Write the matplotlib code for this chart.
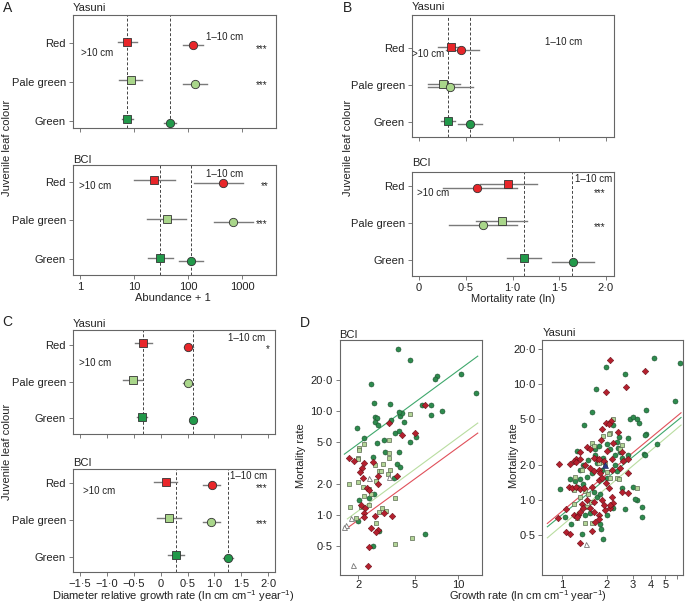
import numpy as np
import matplotlib
matplotlib.use("Agg")
from matplotlib import pyplot as plt

plt.rcParams['font.family'] = ['Liberation Sans', 'DejaVu Sans']
plt.rcParams['mathtext.fontset'] = 'custom'
plt.rcParams['mathtext.rm'] = 'Liberation Sans'

W, H = 686, 604

# colours: red, pale green, green
cols = ['#e8262a', '#a9d68a', '#22994a']
rows = ['Red', 'Pale green', 'Green']

# ---- panel A: abundance + 1 (squares = >10 cm, circles = 1-10 cm)
a_yas_sq = [7.4, 8.7, 7.4]
a_yas_sq_lo = [5.1, 5.3, 5.9]
a_yas_sq_hi = [11.2, 13.9, 9.5]
a_yas_ci = [122, 135, 46]
a_yas_ci_lo = [82, 80, 36]
a_yas_ci_hi = [187, 222, 60]
a_yas_ref = [7.5, 47]

a_bci_sq = [23.8, 40, 30]
a_bci_sq_lo = [10.1, 17.6, 17.9]
a_bci_sq_hi = [57, 92, 53]
a_bci_ci = [440, 690, 113]
a_bci_ci_lo = [129, 302, 69]
a_bci_ci_hi = [1030, 1580, 192]
a_bci_ref = [30, 113]

# ---- panel B: mortality rate (ln)
b_yas_sq = [0.34, 0.25, 0.31]
b_yas_sq_lo = [0.20, 0.09, 0.235]
b_yas_sq_hi = [0.44, 0.44, 0.385]
b_yas_ci = [0.45, 0.33, 0.545]
b_yas_ci_lo = [0.285, 0.093, 0.42]
b_yas_ci_hi = [0.64, 0.574, 0.67]
b_yas_ref = [0.307, 0.545]

b_bci_sq = [0.955, 0.884, 1.123]
b_bci_sq_lo = [0.65, 0.606, 0.944]
b_bci_sq_hi = [1.26, 1.16, 1.30]
b_bci_ci = [0.624, 0.688, 1.644]
b_bci_ci_lo = [0.26, 0.324, 1.42]
b_bci_ci_hi = [1.045, 1.045, 1.875]
b_bci_ref = [1.12, 1.64]

# ---- panel C: diameter relative growth rate
c_yas_sq = [-0.325, -0.51, -0.343]
c_yas_sq_lo = [-0.48, -0.70, -0.45]
c_yas_sq_hi = [-0.17, -0.34, -0.25]
c_yas_ci = [0.515, 0.50, 0.61]
c_yas_ci_lo = [0.43, 0.42, 0.57]
c_yas_ci_hi = [0.60, 0.58, 0.65]
c_yas_ref = [-0.336, 0.608]

c_bci_sq = [0.093, 0.16, 0.28]
c_bci_sq_lo = [-0.125, -0.063, 0.14]
c_bci_sq_hi = [0.30, 0.373, 0.435]
c_bci_ci = [0.95, 0.933, 1.25]
c_bci_ci_lo = [0.795, 0.78, 1.157]
c_bci_ci_hi = [1.106, 1.106, 1.354]
c_bci_ref = [0.285, 1.25]

# ---- panel D: growth rate vs mortality rate (species points)
bci_green = [(3.77, 39.7), (4.59, 30.5), (2.45, 18.3), (7.06, 21.7), (6.87, 20.2), (10.4, 22.8),
             (13.4, 14.7), (2.56, 12.0), (3.33, 11.7), (5.57, 11.4), (6.44, 11.3), (7.69, 9.9),
             (6.44, 9.2), (2.63, 8.75), (2.69, 8.6), (2.61, 7.84), (2.73, 7.28), (3.38, 8.13),
             (3.91, 8.95), (4.04, 9.48), (3.83, 9.78), (4.15, 7.84), (1.96, 6.87), (3.63, 6.1),
             (3.83, 6.47), (5.06, 5.66), (4.62, 5.04), (2.2, 5.46), (2.69, 4.89), (3.02, 5.3),
             (3.07, 4.03), (3.87, 4.03), (2.52, 3.64), (3.73, 3.09), (3.93, 2.87), (3.57, 2.28),
             (2.58, 1.59), (2.01, 1.39), (2.39, 1.45), (2.8, 0.70), (5.88, 0.657), (2.52, 0.503),
             (1.98, 0.88)]
bci_red = [(3.26, 7.62), (4.04, 5.88), (4.98, 6.1), (5.88, 11.4), (1.73, 3.53), (1.87, 3.31),
           (2.2, 3.14), (2.54, 3.21), (2.12, 2.81), (2.05, 2.57), (2.15, 2.28), (2.74, 2.39),
           (2.74, 1.99), (2.29, 1.81), (2.39, 1.73), (3.71, 2.39), (2.09, 1.25), (2.24, 1.16),
           (2.18, 1.04), (2.2, 0.95), (2.63, 0.98), (3.04, 1.04), (3.44, 0.98), (2.45, 0.755),
           (2.73, 0.718), (2.66, 0.682), (2.39, 0.496), (2.36, 0.323)]
bci_pale = [(4.59, 9.4), (3.26, 5.3), (2.2, 4.78), (2.01, 4.38), (2.01, 4.19), (3.29, 3.92),
            (3.29, 3.55), (2.0, 3.55), (1.98, 3.45), (2.63, 3.02), (2.96, 3.06), (2.78, 2.65),
            (2.88, 2.65), (3.34, 2.71), (3.21, 2.46), (1.73, 1.99), (1.98, 2.06), (2.15, 1.85),
            (2.39, 1.77), (2.66, 2.14), (2.45, 1.58), (2.2, 1.52), (3.63, 1.47), (1.75, 1.2),
            (2.09, 1.18), (2.39, 1.25), (2.93, 1.16), (2.78, 1.06), (3.12, 1.09), (1.93, 0.94),
            (2.66, 0.84), (3.63, 0.523), (4.75, 0.597)]
bci_tri = [(2.39, 2.28), (3.29, 2.33), (1.78, 0.93), (1.64, 0.80), (1.6, 0.77), (1.85, 0.33)]

yas_green = [(4.16, 16.9), (6.32, 15.1), (1.98, 14.1), (2.67, 12.1), (1.69, 9.0), (5.84, 7.13),
             (3.71, 5.97), (1.58, 5.77), (1.41, 4.43), (2.88, 5.02), (3.04, 5.19), (3.23, 5.02),
             (3.34, 4.58), (2.22, 4.4), (2.77, 3.44), (3.71, 3.68), (4.39, 3.02), (3.61, 2.48),
             (2.44, 3.51), (2.34, 3.16), (1.25, 2.64), (1.76, 2.92), (1.67, 2.73), (2.11, 2.73),
             (2.4, 2.82), (2.47, 2.59), (2.0, 3.02), (2.28, 2.43), (1.88, 2.32), (0.96, 1.24),
             (1.13, 1.52), (1.22, 1.46), (1.32, 1.52), (1.39, 1.37), (1.25, 1.3), (1.31, 1.81),
             (1.39, 2.0), (1.5, 2.21), (1.71, 2.07), (1.85, 1.81), (2.28, 2.0), (2.34, 1.78),
             (2.54, 1.26), (3.01, 1.3), (3.2, 1.01), (2.67, 0.84), (3.47, 0.71), (2.22, 0.86),
             (2.0, 0.75), (1.8, 0.62), (1.83, 0.56), (1.9, 0.46), (1.35, 0.51), (1.15, 0.62),
             (1.04, 0.72), (1.43, 0.74), (1.54, 0.77), (1.63, 1.17), (1.71, 1.07), (1.8, 1.12),
             (1.47, 1.59), (1.58, 1.7), (2.0, 1.54), (2.54, 2.31), (3.65, 2.44), (2.77, 2.44),
             (1.67, 2.44), (3.12, 1.03), (3.47, 0.88), (3.65, 3.63)]
yas_red = [(2.11, 16.1), (3.65, 12.9), (2.71, 9.42), (1.97, 8.53), (1.98, 4.58), (2.13, 4.8),
           (2.06, 4.49), (1.87, 4.07), (2.4, 3.88), (1.83, 3.29), (2.2, 3.12), (1.47, 2.86),
           (1.53, 2.73), (1.32, 2.59), (2.0, 2.64), (2.54, 2.61), (1.71, 2.28), (1.24, 2.27),
           (0.95, 2.03), (1.12, 2.03), (1.19, 2.17), (1.24, 2.11), (1.31, 2.26), (1.63, 2.29),
           (1.78, 2.26), (1.92, 2.17), (2.17, 2.26), (2.58, 2.17), (2.77, 2.26), (1.43, 2.0),
           (1.54, 1.9), (1.63, 1.78), (1.76, 1.81), (1.8, 1.7), (2.17, 1.81), (2.47, 1.88),
           (1.1, 1.3), (1.16, 1.26), (1.24, 1.3), (1.31, 1.24), (1.41, 1.26), (1.58, 1.3),
           (1.76, 1.49), (1.85, 1.56), (1.98, 1.39), (2.06, 1.26), (2.17, 1.07), (2.54, 1.18),
           (2.81, 1.14), (2.81, 1.7), (1.06, 0.84), (1.19, 0.75), (1.27, 0.75), (1.31, 0.79),
           (1.53, 0.86), (1.63, 0.79), (1.76, 0.74), (1.78, 0.69), (1.95, 0.82), (2.11, 0.85),
           (1.67, 0.65), (1.58, 0.54), (1.06, 0.53), (1.12, 0.51), (1.32, 0.43), (1.25, 0.72),
           (2.2, 0.95), (2.11, 0.9), (1.63, 0.97), (1.47, 1.0), (1.35, 0.92), (1.39, 0.85),
           (1.85, 1.0), (1.92, 0.9), (0.94, 0.70)]
yas_pale = [(2.2, 5.02), (2.11, 3.8), (2.06, 3.68), (1.9, 3.56), (1.58, 3.08), (1.63, 2.92),
            (2.54, 2.96), (2.47, 2.73), (1.78, 2.07), (1.88, 2.11), (1.95, 2.03), (2.11, 1.56),
            (2.34, 1.54), (2.44, 1.52), (1.22, 1.59), (1.19, 1.22), (1.43, 1.2), (1.5, 1.12),
            (3.2, 1.26), (1.56, 0.97), (1.47, 0.88), (1.19, 0.92), (1.43, 0.63), (1.58, 0.63),
            (1.25, 0.7), (1.31, 1.07), (1.35, 1.81), (2.0, 1.75)]
yas_tri = [(1.45, 0.42)]
yas_navy = [(1.95, 2.0)]

# fitted lines, log10(m) = a + b*log10(g): (slope, intercept, g_start, g_end)
bci_fits = {'green': (1.01, 0.378, 1.6, 13.7), 'pale': (1.01, -0.265, 1.68, 13.7),
            'red': (1.0, -0.35, 1.62, 13.7)}
yas_fits = {'red': (1.05, -0.094, 0.79, 6.4), 'green': (1.037, -0.124, 0.79, 6.4),
            'pale': (1.07, -0.216, 0.79, 6.4)}


fig = plt.figure(figsize=(W / 100, H / 100), dpi=100)


def pax(l, t, r, b):
    return fig.add_axes([l / W, 1 - b / H, (r - l) / W, (b - t) / H])


def ftxt(x, y, s, **kw):
    kw.setdefault('va', 'center')
    kw.setdefault('fontsize', 8)
    fig.text(x / W, 1 - y / H, s, color='#222222', **kw)


def style(ax):
    for s in ax.spines.values():
        s.set_color('#666666')
        s.set_linewidth(0.8)
    ax.tick_params(labelsize=8, length=3, width=0.6, color='#666666', labelcolor='#222222', pad=2)


def dot_panel(ax, sq, sq_lo, sq_hi, ci, ci_lo, ci_hi, refs, ylim, xlim, log=False):
    if log:
        ax.set_xscale('log')
    for v in refs:
        ax.axvline(v, ls=(0, (3, 2)), color='#444444', lw=0.7, zorder=0)
    for i, r in enumerate([3, 2, 1]):
        ys, yc = r + 0.045, r - 0.045
        ax.plot([sq_lo[i], sq_hi[i]], [ys, ys], color='#7a7a7a', lw=1, zorder=1)
        ax.plot([ci_lo[i], ci_hi[i]], [yc, yc], color='#7a7a7a', lw=1, zorder=1)
        ax.plot(sq[i], ys, marker='s', ms=5.2, mfc=cols[i], mec='#333333', mew=0.6, zorder=3)
        ax.plot(ci[i], yc, marker='o', ms=6, mfc=cols[i], mec='#333333', mew=0.6, zorder=3)
    ax.set_xlim(xlim)
    ax.set_ylim(ylim)
    ax.set_yticks([3, 2, 1])
    ax.set_yticklabels(rows)
    ax.minorticks_off()
    style(ax)


def atext(ax, x, y, s, size=7, **kw):
    ax.text(x, y, s, transform=ax.transAxes, fontsize=size, ha='center', va='center',
            color='#222222', **kw)


# ---------------- A
ax = pax(72.7, 14.7, 275.7, 127.7)
dot_panel(ax, a_yas_sq, a_yas_sq_lo, a_yas_sq_hi, a_yas_ci, a_yas_ci_lo, a_yas_ci_hi,
          a_yas_ref, (0.828, 3.736), (0.73, 4200), log=True)
ax.set_xticks([1, 10, 100, 1000])
ax.tick_params(labelbottom=False)
atext(ax, 0.749, 0.805, '1–10 cm')
atext(ax, 0.119, 0.658, '>10 cm')
atext(ax, 0.931, 0.70, '***')
atext(ax, 0.931, 0.38, '***')

ax = pax(72.7, 165, 275.7, 275)
dot_panel(ax, a_bci_sq, a_bci_sq_lo, a_bci_sq_hi, a_bci_ci, a_bci_ci_lo, a_bci_ci_hi,
          a_bci_ref, (0.595, 3.43), (0.73, 4200), log=True)
ax.set_xticks([1, 10, 100, 1000])
ax.set_xticklabels(['1', '10', '100', '1000'])
atext(ax, 0.749, 0.915, '1–10 cm')
atext(ax, 0.11, 0.812, '>10 cm')
atext(ax, 0.947, 0.81, '**')
atext(ax, 0.931, 0.46, '***')

# ---------------- B
ax = pax(411.7, 14.7, 614.3, 137.3)
dot_panel(ax, b_yas_sq, b_yas_sq_lo, b_yas_sq_hi, b_yas_ci, b_yas_ci_lo, b_yas_ci_hi,
          b_yas_ref, (0.595, 3.908), (-0.08, 2.09))
ax.set_xticks([0, 0.5, 1.0, 1.5, 2.0])
ax.tick_params(labelbottom=False)
atext(ax, 0.749, 0.775, '1–10 cm')
atext(ax, 0.083, 0.679, '>10 cm')

ax = pax(411.7, 172, 614.3, 275.7)
dot_panel(ax, b_bci_sq, b_bci_sq_lo, b_bci_sq_hi, b_bci_ci, b_bci_ci_lo, b_bci_ci_hi,
          b_bci_ref, (0.576, 3.378), (-0.08, 2.09))
ax.set_xticks([0, 0.5, 1.0, 1.5, 2.0])
ax.set_xticklabels(['0', '0·5', '1·0', '1·5', '2·0'])
atext(ax, 0.896, 0.932, '1–10 cm')
atext(ax, 0.108, 0.795, '>10 cm')
atext(ax, 0.929, 0.80, '***')
atext(ax, 0.929, 0.47, '***')

# ---------------- C
c_ticks = [-1.5, -1.0, -0.5, 0, 0.5, 1.0, 1.5, 2.0]
c_labels = ['−1·5', '−1·0', '−0·5', '0', '0·5', '1·0', '1·5', '2·0']
ax = pax(72.7, 330, 275, 434)
dot_panel(ax, c_yas_sq, c_yas_sq_lo, c_yas_sq_hi, c_yas_ci, c_yas_ci_lo, c_yas_ci_hi,
          c_yas_ref, (0.57, 3.41), (-1.64, 2.13))
ax.set_xticks(c_ticks)
ax.tick_params(labelbottom=False)
atext(ax, 0.862, 0.92, '1–10 cm')
atext(ax, 0.964, 0.82, '*')
atext(ax, 0.113, 0.68, '>10 cm')

ax = pax(72.7, 469, 275, 572.3)
dot_panel(ax, c_bci_sq, c_bci_sq_lo, c_bci_sq_hi, c_bci_ci, c_bci_ci_lo, c_bci_ci_hi,
          c_bci_ref, (0.575, 3.39), (-1.64, 2.13))
ax.set_xticks(c_ticks)
ax.set_xticklabels(c_labels)
atext(ax, 0.868, 0.935, '1–10 cm')
atext(ax, 0.934, 0.82, '***')
atext(ax, 0.934, 0.47, '***')
atext(ax, 0.131, 0.787, '>10 cm')

# ---------------- D
d_red = '#b5202e'
d_green = '#2e8b4e'
d_pale = '#b3d597'
line_cols = {'green': '#3fa86c', 'pale': '#b9dda0', 'red': '#e0505a'}


def scatter_panel(ax, green, pale, red, tri, fits, xlim, ylim):
    ax.set_xscale('log')
    ax.set_yscale('log')
    for k, (b, a, g0, g1) in fits.items():
        g = np.array([g0, g1])
        ax.plot(g, 10 ** (a + b * np.log10(g)), color=line_cols[k], lw=0.8, zorder=1)
    g, m = zip(*green)
    ax.plot(g, m, 'o', ms=3.6, mfc=d_green, mec='#1f4f2f', mew=0.4, zorder=2)
    g, m = zip(*pale)
    ax.plot(g, m, 's', ms=3.4, mfc=d_pale, mec='#5a6a50', mew=0.5, zorder=3)
    g, m = zip(*red)
    ax.plot(g, m, 'D', ms=3.3, mfc=d_red, mec='#6a1018', mew=0.4, zorder=4)
    g, m = zip(*tri)
    ax.plot(g, m, '^', ms=3.6, mfc='white', mec='#777777', mew=0.6, zorder=4)
    ax.set_xlim(xlim)
    ax.set_ylim(ylim)
    ax.minorticks_off()
    ax.set_yticks([0.5, 1, 2, 5, 10, 20])
    ax.set_yticklabels(['0·5', '1·0', '2·0', '5·0', '10·0', '20·0'])
    style(ax)
    ax.tick_params(axis='x', pad=0.5)


ax = pax(339.5, 340, 481.7, 575)
scatter_panel(ax, bci_green, bci_pale, bci_red, bci_tri, bci_fits, (1.48, 14.6), (0.265, 48))
ax.set_xticks([2, 5, 10])
ax.set_xticklabels(['2', '5', '10'])

ax = pax(542.3, 340, 683, 575)
scatter_panel(ax, yas_green, yas_pale, yas_red, yas_tri, yas_fits, (0.73, 6.6), (0.226, 24))
g, m = zip(*yas_navy)
ax.plot(g, m, '^', ms=3.8, mfc='#2b3a8c', mec='#1a2050', mew=0.4, zorder=5)
ax.set_xticks([1, 2, 3, 4, 5, 6])
ax.set_xticklabels(['1', '2', '3', '4', '5', ''])

# ---------------- figure texts
ftxt(2.5, 8.3, 'A', fontsize=10)
ftxt(343, 8.3, 'B', fontsize=10)
ftxt(2.5, 322.5, 'C', fontsize=10)
ftxt(300, 323, 'D', fontsize=10)

ftxt(72.7, 8.3, 'Yasuni')
ftxt(72.7, 160, 'BCI')
ftxt(411.7, 7.3, 'Yasuni')
ftxt(411.7, 162.7, 'BCI')
ftxt(72.7, 323.7, 'Yasuni')
ftxt(72.7, 463, 'BCI')
ftxt(339.5, 335, 'BCI')
ftxt(542.3, 333.3, 'Yasuni')

ftxt(173, 596.5, 'Diameter relative growth rate (ln cm cm$^{-1}$ year$^{-1}$)', ha='center')
ftxt(173, 298.3, 'Abundance + 1', ha='center')
ftxt(512.7, 299.3, 'Mortality rate (ln)', ha='center')
ftxt(528, 596.5, 'Growth rate (ln cm cm$^{-1}$ year$^{-1}$)', ha='center')

ftxt(7, 148, 'Juvenile leaf colour', rotation=90, ha='center')
ftxt(348, 148, 'Juvenile leaf colour', rotation=90, ha='center')
ftxt(7, 452, 'Juvenile leaf colour', rotation=90, ha='center')
ftxt(301, 456, 'Mortality rate', rotation=90, ha='center')
ftxt(514, 456, 'Mortality rate', rotation=90, ha='center')

fig.savefig('out.png', dpi=100)
